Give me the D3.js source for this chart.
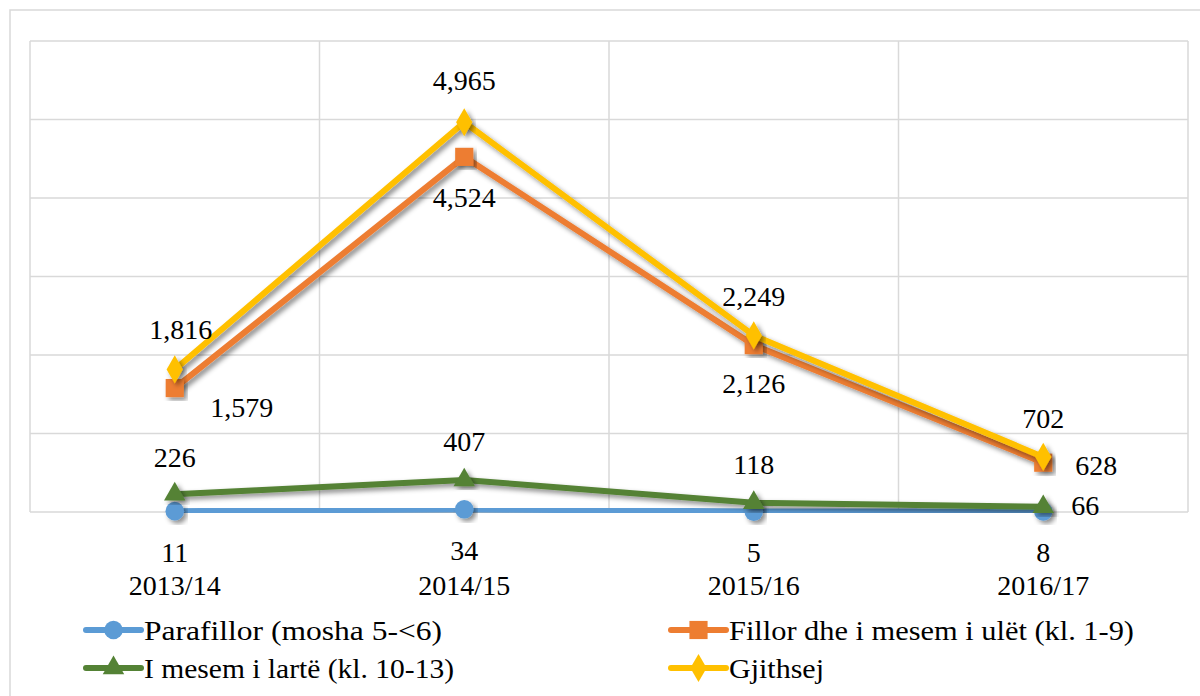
<!DOCTYPE html>
<html lang="en">
<head>
  <meta charset="UTF-8">
  <title>Line chart</title>
  <script src="https://d3js.org/d3.v7.min.js"></script>
  <style>
    body { margin: 0; background: #fff; }
    svg text { font-family: 'Liberation Serif', 'DejaVu Serif', serif; fill: #000; }
    .grid line { stroke: #d9d9d9; stroke-width: 1.5; }
  </style>
</head>
<body>
<svg id="chart" width="1200" height="696"></svg>

<script>
// data
const years = ["2013/14", "2014/15", "2015/16", "2016/17"];
const parafillor = [11, 34, 5, 8];
const fillor = [1579, 4524, 2126, 628];
const mesem = [226, 407, 118, 66];
const gjithsej = [1816, 4965, 2249, 702];
const yTicks = [0, 1000, 2000, 3000, 4000, 5000, 6000];

// label offsets from the point (layout only)
const series = [
  { name: "Parafillor (mosha 5-<6)", values: parafillor, color: "#5b9bd5", marker: "circle",
    offs: [[0, 41], [0, 41], [0, 41], [0, 41]] },
  { name: "Fillor dhe i mesem i ulët (kl. 1-9)", values: fillor, color: "#ed7d31", marker: "square",
    offs: [[67, 19], [0, 40], [0, 38], [53, 2]] },
  { name: "I mesem i lartë (kl. 10-13)", values: mesem, color: "#548235", marker: "triangle",
    offs: [[0, -37], [0, -39], [0, -39], [42, -2]] },
  { name: "Gjithsej", values: gjithsej, color: "#ffc000", marker: "diamond",
    offs: [[6, -40], [0, -42], [0, -39], [0, -39]] }
];

const svg = d3.select("#chart");
const fmt = d3.format(",");

const plot = { left: 30, right: 1188, top: 41, bottom: 512 };

const x = d3.scaleBand().domain(years).range([plot.left, plot.right]);
const y = d3.scaleLinear().domain([0, 6000]).range([plot.bottom, plot.top]);

// shadow filter
const defs = svg.append("defs");
defs.append("filter").attr("id", "shadow")
    .attr("x", "-20%").attr("y", "-20%").attr("width", "140%").attr("height", "140%")
  .append("feDropShadow")
    .attr("dx", 3).attr("dy", 3).attr("stdDeviation", 2.5)
    .attr("flood-color", "#000").attr("flood-opacity", 0.45);

// outer chart frame
svg.append("rect")
    .attr("x", 10).attr("y", 10).attr("width", 1250).attr("height", 750)
    .attr("fill", "#fff").attr("stroke", "#d9d9d9").attr("stroke-width", 1.5);

// grid
const grid = svg.append("g").attr("class", "grid");
grid.selectAll(".h").data(yTicks).enter().append("line")
    .attr("x1", plot.left).attr("x2", plot.right)
    .attr("y1", d => y(d)).attr("y2", d => y(d));
grid.selectAll(".v").data(years.concat(["end"])).enter().append("line")
    .attr("x1", (d, i) => plot.left + i * x.bandwidth())
    .attr("x2", (d, i) => plot.left + i * x.bandwidth())
    .attr("y1", plot.top).attr("y2", plot.bottom);

// category labels
svg.append("g").selectAll("text").data(years).enter().append("text")
    .attr("x", d => x(d) + x.bandwidth() / 2)
    .attr("y", 585).attr("dy", "0.35em")
    .attr("text-anchor", "middle")
    .style("font-size", "28px")
    .text(d => d);

const cx = d => x(d) + x.bandwidth() / 2;

const symbolFor = {
  circle: d3.symbol().type(d3.symbolCircle).size(270),
  square: d3.symbol().type(d3.symbolSquare).size(330),
  triangle: d3.symbol().type(d3.symbolTriangle).size(200),
  diamond: d3.symbol().type(d3.symbolDiamond).size(230)
};

const line = d3.line().x(d => cx(d.year)).y(d => y(d.v));

series.forEach(s => {
  const pts = years.map((yr, i) => ({ year: yr, v: s.values[i] }));
  const g = svg.append("g");
  g.append("path")
      .datum(pts)
      .attr("d", line)
      .attr("fill", "none")
      .attr("stroke", s.color)
      .attr("stroke-width", 6)
      .attr("stroke-linejoin", "round")
      .attr("filter", "url(#shadow)");
  g.selectAll(".m").data(pts).enter().append("path")
      .attr("d", symbolFor[s.marker])
      .attr("transform", d => `translate(${cx(d.year)},${y(d.v)})`)
      .attr("fill", s.color)
      .attr("filter", "url(#shadow)");
});

// data labels drawn on top
series.forEach(s => {
  svg.append("g").selectAll("text").data(years).enter().append("text")
      .attr("x", (d, i) => cx(d) + s.offs[i][0])
      .attr("y", (d, i) => y(s.values[i]) + s.offs[i][1])
      .attr("dy", "0.35em")
      .attr("text-anchor", "middle")
      .style("font-size", "28px")
      .text((d, i) => fmt(s.values[i]));
});

// legend
const legendPos = [[86, 630], [671, 630], [86, 668], [671, 668]];
const textWidths = [298, 405, 310, 95];
series.forEach((s, i) => {
  const [lx, ly] = legendPos[i];
  const g = svg.append("g").attr("transform", `translate(${lx},${ly})`);
  g.append("line")
      .attr("x1", 0).attr("x2", 55).attr("y1", 0).attr("y2", 0)
      .attr("stroke", s.color).attr("stroke-width", 6).attr("stroke-linecap", "round");
  g.append("path")
      .attr("d", symbolFor[s.marker])
      .attr("transform", "translate(27.5,0)")
      .attr("fill", s.color);
  g.append("text")
      .attr("x", 58).attr("y", 0).attr("dy", "0.35em")
      .attr("textLength", textWidths[i])
      .attr("lengthAdjust", "spacingAndGlyphs")
      .style("font-size", "28px")
      .text(s.name);
});
</script>
</body>
</html>
